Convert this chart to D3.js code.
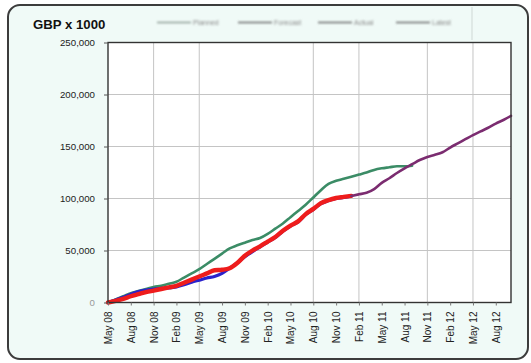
<!DOCTYPE html>
<html>
<head>
<meta charset="utf-8">
<script src="https://cdn.jsdelivr.net/npm/d3@7"></script>
<style>
  html, body { margin: 0; padding: 0; background: #ffffff; }
  svg { display: block; font-family: "Liberation Sans", Arial, sans-serif; }
</style>
</head>
<body>
<svg id="chart" width="531" height="363"></svg>
<script>
// Monthly categories, May 2008 to October 2012
const months = [
  "May 08","Jun 08","Jul 08","Aug 08","Sep 08","Oct 08","Nov 08","Dec 08",
  "Jan 09","Feb 09","Mar 09","Apr 09","May 09","Jun 09","Jul 09","Aug 09",
  "Sep 09","Oct 09","Nov 09","Dec 09","Jan 10","Feb 10","Mar 10","Apr 10",
  "May 10","Jun 10","Jul 10","Aug 10","Sep 10","Oct 10","Nov 10","Dec 10",
  "Jan 11","Feb 11","Mar 11","Apr 11","May 11","Jun 11","Jul 11","Aug 11",
  "Sep 11","Oct 11","Nov 11","Dec 11","Jan 12","Feb 12","Mar 12","Apr 12",
  "May 12","Jun 12","Jul 12","Aug 12","Sep 12","Oct 12"
];

// Labelled months on the category axis
const tickLabels = [
  "May 08","Aug 08","Nov 08","Feb 09","May 09","Aug 09","Nov 09","Feb 10",
  "May 10","Aug 10","Nov 10","Feb 11","May 11","Aug 11","Nov 11","Feb 12",
  "May 12","Aug 12"
];

// Months carrying a vertical gridline
const gridMonths = ["Nov 08","May 09","Aug 10","Feb 11","Nov 11","May 12"];

// Value axis ticks (GBP x 1000)
const yTicks = [0, 50000, 100000, 150000, 200000, 250000];

// Cumulative spend per month (GBP x 1000); null where a series has no value
const planned = [
  0, 3000, 6000, 9000, 11000, 13000, 15000, 16000, 18000, 20000,
  24000, 28000, 32000, 37000, 42000, 47000, 52000, 55000, 57500, 60000,
  62000, 66000, 71000, 76000, 82000, 88000, 94000, 101000, 108000, 114000,
  117000, 119000, 121000, 123000, 125000, 127500, 129000, 130000, 131000, 131000,
  131500
];

const forecast = [
  0, 2500, 5000, 8000, 10500, 12000, 13000, 13500, 14000, 15000,
  17000, 19500, 21500, 23500, 25000, 28000, 33000, 38000, 44000, 49000,
  53500, 58000, 62500, 68500, 73500, 77500, 84500, 89500, 95000, 98000,
  100000, 101000, 102500
];

const actual = [
  0, 1500, 3500, 6000, 8000, 10000, 11500, 13000, 14500, 16000,
  19000, 22000, 25000, 28000, 31000, 31500, 33000, 38000, 45000, 50000,
  54000, 58500, 63000, 69000, 74000, 78000, 85000, 90000, 95500, 98500,
  100500, 101500, 102500
];

const latest = [
  null, null, null, null, null, null, null, null, null, null,
  null, null, null, null, null, null, null, null, null, null,
  null, null, null, null, null, null, null, null, null, null,
  null, null, 102500, 104000, 105500, 109000, 115000, 119500, 124500, 129000,
  133000, 137000, 140000, 142000, 144500, 149000, 153000, 157000, 161000, 164500,
  168000, 172000, 175500, 179500
];

const seriesNames = ["Planned", "Forecast", "Actual", "Latest"];
const seriesColors = ["#3b8c66", "#2b22cc", "#ee1c1c", "#7b2c70"];
const seriesWidths = [2.6, 3.2, 4.4, 2.6];
const seriesData = [planned, forecast, actual, latest];

const svg = d3.select("#chart");

// Frame and background
svg.append("rect")
  .attr("x", 8).attr("y", 5).attr("width", 520).attr("height", 354)
  .attr("rx", 12).attr("ry", 12)
  .attr("fill", "#f0faf7").attr("stroke", "#3c3c3c").attr("stroke-width", 2);

svg.append("line")
  .attr("x1", 472).attr("x2", 472).attr("y1", 7).attr("y2", 40)
  .attr("stroke", "#cfd8d5").attr("stroke-width", 1);

const plotLeft = 108, plotRight = 511, plotTop = 42.5, plotBottom = 302.5;

const x = d3.scalePoint().domain(months).range([plotLeft, plotRight]);
const y = d3.scaleLinear().domain([0, 250000]).range([plotBottom, plotTop]);

// Plot area
svg.append("rect")
  .attr("x", plotLeft).attr("y", plotTop)
  .attr("width", plotRight - plotLeft).attr("height", plotBottom - plotTop)
  .attr("fill", "#ffffff");

// Gridlines
const grid = svg.append("g");
grid.selectAll("line.h")
  .data(yTicks.filter(v => v > 0 && v < 250000))
  .join("line")
  .attr("class", "h")
  .attr("x1", plotLeft).attr("x2", plotRight)
  .attr("y1", d => y(d)).attr("y2", d => y(d))
  .attr("stroke", "#c4c4c4").attr("stroke-width", 1);
grid.selectAll("line.v")
  .data(gridMonths)
  .join("line")
  .attr("class", "v")
  .attr("x1", d => x(d)).attr("x2", d => x(d))
  .attr("y1", plotTop).attr("y2", plotBottom)
  .attr("stroke", "#c4c4c4").attr("stroke-width", 1);

// Series lines
const line = d3.line()
  .defined(d => d != null)
  .x((d, i) => x(months[i]))
  .y(d => y(d))
  .curve(d3.curveMonotoneX);

seriesData.forEach((data, k) => {
  svg.append("path")
    .datum(data)
    .attr("fill", "none")
    .attr("stroke", seriesColors[k])
    .attr("stroke-width", seriesWidths[k])
    .attr("stroke-linejoin", "round")
    .attr("stroke-linecap", "round")
    .attr("d", line);
});

// Plot border
svg.append("rect")
  .attr("x", plotLeft).attr("y", plotTop)
  .attr("width", plotRight - plotLeft).attr("height", plotBottom - plotTop)
  .attr("fill", "none").attr("stroke", "#333333").attr("stroke-width", 1.4);

// Value axis
const yAxis = d3.axisLeft(y)
  .tickValues(yTicks)
  .tickSize(4)
  .tickPadding(9)
  .tickFormat(d => d === 0 ? "0" : d3.format(",")(d));
const gy = svg.append("g").attr("transform", `translate(${plotLeft},0)`).call(yAxis);
gy.select(".domain").remove();
gy.selectAll(".tick line").attr("stroke", "#555");
gy.selectAll(".tick text")
  .attr("fill", "#222")
  .style("font-size", "9.7px")
  .style("font-family", "'Liberation Sans', Arial, sans-serif");
gy.selectAll(".tick").filter(d => d === 0).select("text").attr("fill", "#999");

// Category axis
const xAxis = d3.axisBottom(x).tickValues(tickLabels).tickSize(3).tickSizeOuter(0);
const gx = svg.append("g").attr("transform", `translate(0,${plotBottom})`).call(xAxis);
gx.select(".domain").remove();
gx.selectAll(".tick line").attr("stroke", "#777");
gx.selectAll(".tick text")
  .attr("fill", "#222")
  .style("font-size", "10px")
  .style("font-family", "'Liberation Sans', Arial, sans-serif")
  .attr("text-anchor", "end")
  .attr("transform", "rotate(-90)")
  .attr("x", -9)
  .attr("y", 0)
  .attr("dy", "0.35em");

// Title
svg.append("text")
  .attr("x", 33).attr("y", 29)
  .attr("font-size", "13.2px").attr("font-weight", "bold")
  .attr("fill", "#111")
  .text("GBP x 1000");

// Legend (soft, small print)
const defs = svg.append("defs");
defs.append("filter").attr("id", "soft")
  .append("feGaussianBlur").attr("stdDeviation", 0.8);

const legendX = [157, 238, 318, 396];
const legend = svg.append("g").attr("filter", "url(#soft)");
seriesNames.forEach((name, k) => {
  const g = legend.append("g").attr("transform", `translate(${legendX[k]},22.5)`);
  g.append("line")
    .attr("x1", 0).attr("x2", 34).attr("y1", 0).attr("y2", 0)
    .attr("stroke", k === 0 ? "#8a9a92" : "#666")
    .attr("stroke-width", 1.6);
  g.append("text")
    .attr("x", 36).attr("y", 2.5)
    .attr("font-size", "7px").attr("fill", "#888")
    .text(name);
});
</script>
</body>
</html>
